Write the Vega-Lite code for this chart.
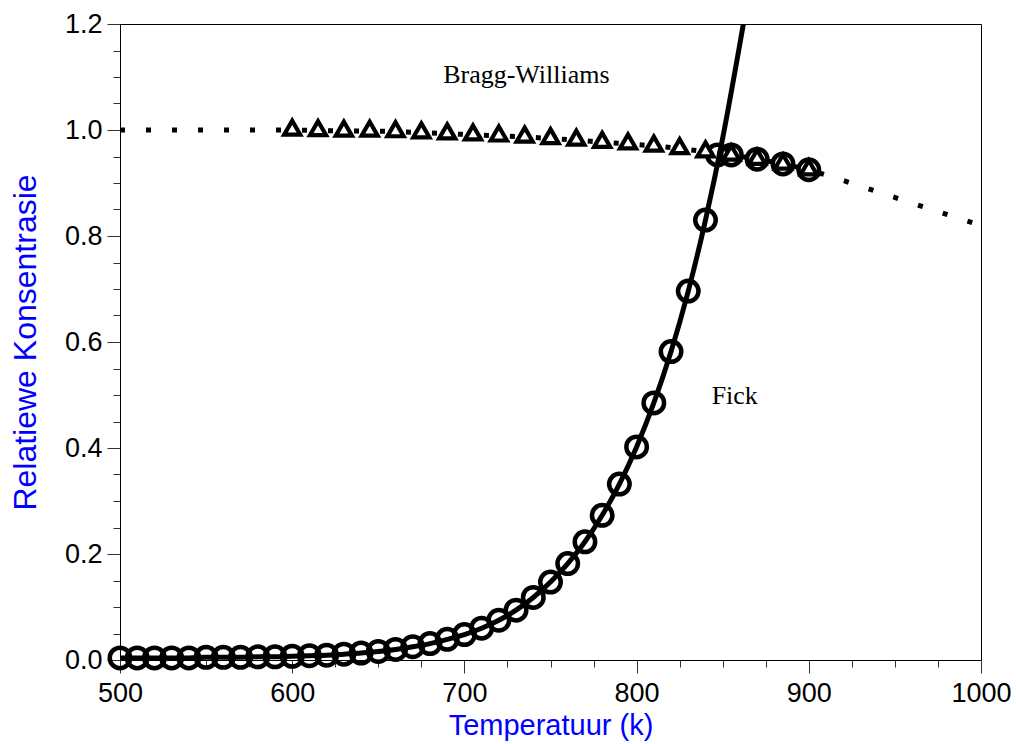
{
  "$schema": "https://vega.github.io/schema/vega-lite/v6.json",
  "width": 861,
  "height": 636,
  "autosize": {"type": "none"},
  "padding": {"left": 120, "top": 24, "right": 35, "bottom": 84},
  "background": "white",
  "config": {
    "view": {"stroke": "black", "strokeWidth": 1},
    "font": "Liberation Sans"
  },
  "datasets": {
    "fickCurve": [
      {"T": 500, "c": 0.004}, {"T": 510, "c": 0.004}, {"T": 520, "c": 0.004}, {"T": 530, "c": 0.004},
      {"T": 540, "c": 0.004}, {"T": 550, "c": 0.005}, {"T": 560, "c": 0.005}, {"T": 570, "c": 0.005},
      {"T": 580, "c": 0.006}, {"T": 590, "c": 0.006}, {"T": 600, "c": 0.007}, {"T": 610, "c": 0.008},
      {"T": 620, "c": 0.009}, {"T": 630, "c": 0.011}, {"T": 640, "c": 0.013}, {"T": 650, "c": 0.016},
      {"T": 660, "c": 0.020}, {"T": 670, "c": 0.025}, {"T": 680, "c": 0.031}, {"T": 690, "c": 0.039},
      {"T": 700, "c": 0.048}, {"T": 710, "c": 0.060}, {"T": 720, "c": 0.075}, {"T": 730, "c": 0.094},
      {"T": 740, "c": 0.118}, {"T": 750, "c": 0.147}, {"T": 760, "c": 0.182}, {"T": 770, "c": 0.223},
      {"T": 780, "c": 0.273}, {"T": 790, "c": 0.332}, {"T": 800, "c": 0.402}, {"T": 810, "c": 0.485},
      {"T": 820, "c": 0.582}, {"T": 830, "c": 0.696}, {"T": 840, "c": 0.830}, {"T": 850, "c": 0.985},
      {"T": 860, "c": 1.163}, {"T": 862, "c": 1.2}
    ],
    "fickPoints": [
      {"T": 500, "c": 0.004}, {"T": 510, "c": 0.004}, {"T": 520, "c": 0.004}, {"T": 530, "c": 0.004},
      {"T": 540, "c": 0.004}, {"T": 550, "c": 0.005}, {"T": 560, "c": 0.005}, {"T": 570, "c": 0.005},
      {"T": 580, "c": 0.006}, {"T": 590, "c": 0.006}, {"T": 600, "c": 0.007}, {"T": 610, "c": 0.008},
      {"T": 620, "c": 0.009}, {"T": 630, "c": 0.011}, {"T": 640, "c": 0.013}, {"T": 650, "c": 0.016},
      {"T": 660, "c": 0.020}, {"T": 670, "c": 0.025}, {"T": 680, "c": 0.031}, {"T": 690, "c": 0.039},
      {"T": 700, "c": 0.048}, {"T": 710, "c": 0.060}, {"T": 720, "c": 0.075}, {"T": 730, "c": 0.094},
      {"T": 740, "c": 0.118}, {"T": 750, "c": 0.147}, {"T": 760, "c": 0.182}, {"T": 770, "c": 0.223},
      {"T": 780, "c": 0.273}, {"T": 790, "c": 0.332}, {"T": 800, "c": 0.402}, {"T": 810, "c": 0.485},
      {"T": 820, "c": 0.582}, {"T": 830, "c": 0.696}, {"T": 840, "c": 0.830}, {"T": 847, "c": 0.953},
      {"T": 855, "c": 0.953}, {"T": 870, "c": 0.945}, {"T": 885, "c": 0.936}, {"T": 900, "c": 0.925}
    ],
    "bwCurve": [
      {"T": 500, "c": 1.0}, {"T": 550, "c": 1.0}, {"T": 600, "c": 1.0}, {"T": 615, "c": 0.999},
      {"T": 630, "c": 0.998}, {"T": 645, "c": 0.998}, {"T": 660, "c": 0.997}, {"T": 675, "c": 0.995},
      {"T": 690, "c": 0.993}, {"T": 705, "c": 0.991}, {"T": 720, "c": 0.989}, {"T": 735, "c": 0.987},
      {"T": 750, "c": 0.984}, {"T": 765, "c": 0.981}, {"T": 780, "c": 0.977}, {"T": 795, "c": 0.974},
      {"T": 810, "c": 0.970}, {"T": 825, "c": 0.965}, {"T": 840, "c": 0.959}, {"T": 855, "c": 0.953},
      {"T": 870, "c": 0.945}, {"T": 885, "c": 0.936}, {"T": 900, "c": 0.925}, {"T": 915, "c": 0.910},
      {"T": 930, "c": 0.894}, {"T": 945, "c": 0.878}, {"T": 960, "c": 0.862}, {"T": 975, "c": 0.846},
      {"T": 990, "c": 0.830}, {"T": 1000, "c": 0.820}
    ],
    "bwPoints": [
      {"T": 600, "c": 1.0}, {"T": 615, "c": 0.999}, {"T": 630, "c": 0.998}, {"T": 645, "c": 0.998},
      {"T": 660, "c": 0.997}, {"T": 675, "c": 0.995}, {"T": 690, "c": 0.993}, {"T": 705, "c": 0.991},
      {"T": 720, "c": 0.989}, {"T": 735, "c": 0.987}, {"T": 750, "c": 0.984}, {"T": 765, "c": 0.981},
      {"T": 780, "c": 0.977}, {"T": 795, "c": 0.974}, {"T": 810, "c": 0.970}, {"T": 825, "c": 0.965},
      {"T": 840, "c": 0.959}, {"T": 855, "c": 0.953}, {"T": 870, "c": 0.945}, {"T": 885, "c": 0.936},
      {"T": 900, "c": 0.925}
    ],
    "curveLabels": [
      {"T": 736, "c": 1.088, "name": "Bragg-Williams"},
      {"T": 857, "c": 0.483, "name": "Fick"}
    ]
  },
  "encoding": {
    "x": {
      "field": "T",
      "type": "quantitative",
      "scale": {"domain": [500, 1000], "nice": false, "zero": false},
      "axis": {
        "title": "Temperatuur (k)",
        "values": [500, 525, 550, 575, 600, 625, 650, 675, 700, 725, 750, 775, 800, 825, 850, 875, 900, 925, 950, 975, 1000],
        "format": "d",
        "labelExpr": "datum.value % 100 === 0 ? datum.label : ''",
        "tickSize": {"condition": {"test": "datum.value % 100 !== 0", "value": 7}, "value": 13},
        "tickColor": "#333333",
        "domainColor": "black",
        "grid": false,
        "labelFont": "Liberation Sans",
        "labelFontSize": 27,
        "labelColor": "black",
        "labelPadding": 7,
        "labelFlush": false,
        "labelOverlap": false,
        "titleFont": "Liberation Sans",
        "titleFontSize": 29,
        "titleFontWeight": "normal",
        "titleColor": "#0000ff",
        "titlePadding": 5
      }
    },
    "y": {
      "field": "c",
      "type": "quantitative",
      "scale": {"domain": [0, 1.2], "nice": false, "zero": false},
      "axis": {
        "title": "Relatiewe Konsentrasie",
        "values": [0, 0.05, 0.1, 0.15, 0.2, 0.25, 0.3, 0.35, 0.4, 0.45, 0.5, 0.55, 0.6, 0.65, 0.7, 0.75, 0.8, 0.85, 0.9, 0.95, 1.0, 1.05, 1.1, 1.15, 1.2],
        "format": ".1f",
        "labelExpr": "abs(datum.value * 5 - round(datum.value * 5)) < 0.001 ? datum.label : ''",
        "tickSize": {"condition": {"test": "abs(datum.value * 5 - round(datum.value * 5)) > 0.001", "value": 7}, "value": 13},
        "tickColor": "#333333",
        "domainColor": "black",
        "grid": false,
        "labelFont": "Liberation Sans",
        "labelFontSize": 27,
        "labelColor": "black",
        "labelPadding": 5,
        "labelOverlap": false,
        "labelFlush": false,
        "titleFont": "Liberation Sans",
        "titleFontSize": 32,
        "titleFontWeight": "normal",
        "titleColor": "#0000ff",
        "titlePadding": 22
      }
    }
  },
  "layer": [
    {
      "data": {"name": "bwCurve"},
      "mark": {"type": "line", "color": "black", "strokeWidth": 5, "strokeDash": [5, 21], "strokeCap": "butt"}
    },
    {
      "data": {"name": "fickPoints"},
      "mark": {"type": "point", "shape": "circle", "filled": false, "color": "black", "size": 420, "strokeWidth": 4.5, "opacity": 1}
    },
    {
      "data": {"name": "bwPoints"},
      "mark": {"type": "point", "shape": "M0,-1.155L1,0.577L-1,0.577Z", "filled": false, "fill": "white", "fillOpacity": 1, "stroke": "black", "size": 260, "strokeWidth": 4.2, "opacity": 1}
    },
    {
      "data": {"name": "fickCurve"},
      "mark": {"type": "line", "color": "black", "strokeWidth": 5, "interpolate": "monotone", "clip": true}
    },
    {
      "data": {"name": "curveLabels"},
      "mark": {"type": "text", "font": "Liberation Serif", "fontSize": 26, "align": "center", "baseline": "alphabetic", "color": "black"},
      "encoding": {"text": {"field": "name", "type": "nominal"}}
    }
  ]
}
